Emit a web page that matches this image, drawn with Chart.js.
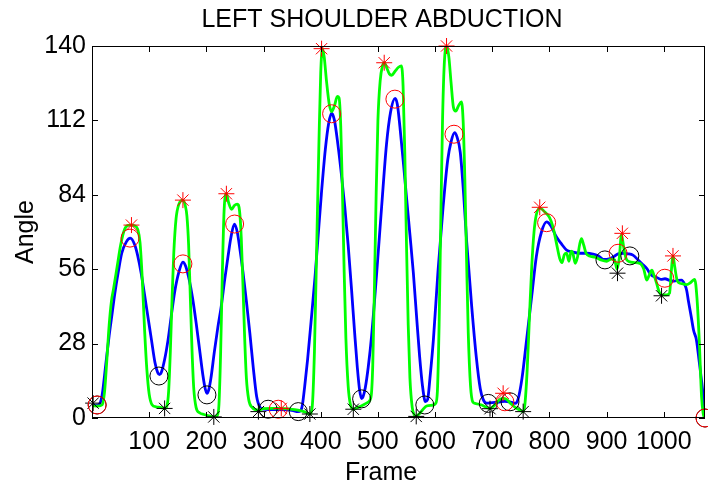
<!DOCTYPE html>
<html><head><meta charset="utf-8">
<script src="https://cdn.jsdelivr.net/npm/chart.js@4"></script>
<style>html,body{margin:0;padding:0;background:#fff}#wrap{width:708px;height:487px}</style>
</head><body><div id="wrap"><canvas id="c" width="708" height="487"></canvas></div>
<script>
const titleText = "LEFT SHOULDER ABDUCTION";
const xLabel = "Frame";
const yLabel = "Angle";
const xTicks = [100, 200, 300, 400, 500, 600, 700, 800, 900, 1000];
const yTicks = [0, 28, 56, 84, 112, 140];

// smoothed (blue) curve
const smoothFrames = [0,5,9,14,18,24,30,35,40,46,52,60,67,75,80,86,95,104,110,115,118,121,127,133,139,145,152,159,164,170,176,182,188,194,198,201,204,208,214,220,226,232,238,243,249,254,259,264,270,276,282,288,294,300,310,325,340,352,360,365,368,372,377,383,390,396,401,408,414,419,424,430,436,442,448,454,459,464,468,471.5,474,478,483,489,498,506.5,515,522,530,534,538.5,545,550,556,562,568,573,578,583,587,591,597,605,614,622,628,634,638,644,650,655,664,672,679,684,690,700,712,722,732,740,745,752,760,769,777,786,795,802,812,821,830,840,853,865,876,886,894,900,911,920,929,937,946,955,962,970,978,987,995,1002,1010,1018,1025,1031,1036,1040,1043,1048,1052,1057,1062,1066,1069,1072];
const smoothAngles = [5.5,4.8,4.8,5.5,9,20,31,39,47,55,62,66.3,67.7,65,61,54.5,42,29.4,21,17,16.3,17,22,29.4,39,48,55,58.7,57,52,45,36,26,16,11,9.3,10.5,15,25,34,42,52,61,68,73,70,63,55,44,32,19,8,4,3.3,3.2,3.2,3.1,2.8,2.4,2.8,5,12,22,36,53,70,84,101,111,114.7,112,103,92,79.5,65,48,33,19,10.5,7.3,8,11.5,19,31,55,79.5,103,115,120.3,118,109.6,95,83,69,54.5,37,23,12,6.2,7,15,29.4,55,79.5,97,104,107.4,106,100,84,67,42,23,11,7,5.6,5.8,6,6.3,6,5.5,7,15,29.4,46,60.7,70,73.8,72.5,68.2,65.5,63.2,62.5,62,62,61.7,61,59.7,59.7,60.5,61.8,62,61.8,61.3,59.5,58,56.3,53.8,53,52.2,52.4,51.8,51.5,51.8,51.9,50.5,48,44,38,33,29.4,21,14,8,0];

// raw (green) curve
const rawFrames = [0,10,18,22,26,30,34,38,44,50,57,63,69,75,80,84,88,92,96,100,105,112,120,127,131,134,137,140,143,147,152,159,163,166,169,172,175,178,182,188,196,205,213,219,222,225,228,231,235,239,244,249,254,258,261,264,267,270,274,280,291,300,315,331,345,360,372,381,385,389,393,397,400,403,406,410,415,419,424,429,432,435,438,441,444,448,452,457,465,475,483,488,491,494,497,500,504,508,511,516,520,524,530,536,541,544,547,550,553,556,560,564,567,572,578,585,595,601,604,607,610,613,616,620,624,628,632,636,641,646,649,652,655,658,662,666,670,680,690,696,705,712,719,725,732,740,748,754,757,761,765,769,773,777,783,792,800,806,812,818,822,826,830,834,838,841,845,849,853,856,860,864,870,880,890,900,908,914,918,922,926,930,934,939,948,958,965,970,975,979,983,987,991,996,1005,1010,1013,1016,1019,1023,1026,1033,1040,1047,1054,1058,1062,1066,1069,1071];
const rawAngles = [4.6,4.5,5,10,22,35,44,49,57,65,71,72.5,72.6,72.3,71,66,52,33,18,9,5,4.2,4,3.6,4.5,10,25,45,62,75,80.5,82,80,76,65,45,25,11,4,2,1.3,0.8,0.4,1,5,25,55,78,84.4,81,78.5,80,80.5,78,68,50,30,15,7,4,3,3.5,3.6,3.6,3.4,3,2.3,1.5,4,25,65,105,130,139,136,127,118,115.3,117.5,121,120.5,110,85,55,30,12,5,3.3,4,5,6,8,20,50,85,112,127,132.5,133.7,131.5,129.5,129,130.5,132,132.5,125,100,65,35,15,4,1,0.6,1.5,3,4.5,4.8,5.5,10,35,75,112,133,140,136,126,117,115.5,117.5,119,112,90,60,32,12,6,5.5,5,4,3.5,5,6.8,7.4,7,5.5,4,3,2.4,5,18,38,57,70,76.5,79,77.5,75.5,72,66,60,58.5,61.5,62,59,62.8,62,58.2,60.5,65.5,67.5,65,62,61,60.5,59.5,59,59.8,59.5,56,60,69,64,60,58.9,58.5,58.2,56,51.9,54,55.6,53.5,51,48,46.3,46.3,47,55,61,57,52,50.9,50.5,50.2,51,52.2,45,29,8,1.5,0];

// markers
const rawPeakFrames = [69,159,235,331,401.5,511,620,719,783,927.5,1016];
const rawPeakAngles = [72.6,82,84.4,3.6,139,133.7,140,9.3,79.3,69.5,61];
const smoothPeakFrames = [9,66.5,159,249.4,325.7,419,529.7,633,722,795,920,1001.7,1072];
const smoothPeakAngles = [4.9,67.7,58,73,3.3,114.5,120,106.8,6.1,73.5,62,52.6,0];
const rawValleyFrames = [2,127,213,291,381,457,567,696,754,919,996];
const rawValleyAngles = [5.6,3.6,0.4,2.4,1.5,3.3,0.6,3.5,2.4,54.5,46];
const smoothValleyFrames = [9,117,201,308,360.7,471.5,582,693,731,897,940.6,1072];
const smoothValleyAngles = [4.9,15.8,8.7,3.3,2.4,7.2,4.9,5.5,6.1,59.5,61,0];

const pts = (xs, ys) => xs.map((x, i) => ({x: x, y: ys[i]}));
const FONT = '"Liberation Sans", Arial, Helvetica, sans-serif';

function markerSet(xs, ys, style, color, r) {
  return {
    type: 'line', data: pts(xs, ys), showLine: false, clip: false,
    pointStyle: style, pointRadius: r, pointHoverRadius: r,
    pointBorderColor: color, pointBackgroundColor: 'rgba(0,0,0,0)',
    pointBorderWidth: 1, borderColor: color, backgroundColor: 'rgba(0,0,0,0)'
  };
}

const framePlugin = {
  id: 'framePlugin',
  afterDatasetsDraw(chart) {
    const {ctx, chartArea: a, scales: {x, y}} = chart;
    ctx.save();
    ctx.strokeStyle = '#000';
    ctx.lineWidth = 1;
    ctx.strokeRect(a.left + 0.5, a.top + 0.5, a.right - a.left - 1, a.bottom - a.top - 1);
    const tl = 6;
    ctx.beginPath();
    xTicks.forEach(v => {
      const px = Math.round(x.getPixelForValue(v)) + 0.5;
      ctx.moveTo(px, a.bottom); ctx.lineTo(px, a.bottom - tl);
      ctx.moveTo(px, a.top); ctx.lineTo(px, a.top + tl);
    });
    yTicks.forEach(v => {
      const py = Math.round(y.getPixelForValue(v)) + 0.5;
      ctx.moveTo(a.left, py); ctx.lineTo(a.left + tl, py);
      ctx.moveTo(a.right, py); ctx.lineTo(a.right - tl, py);
    });
    ctx.stroke();
    ctx.restore();
  },
  afterDraw(chart) {
    const {ctx} = chart;
    ctx.save();
    ctx.fillStyle = '#000';
    ctx.font = '25px ' + FONT;
    ctx.textAlign = 'center';
    ctx.textBaseline = 'alphabetic';
    ctx.fillText(titleText, 382, 27);
    ctx.fillText(xLabel, 381, 480);
    ctx.translate(33, 232);
    ctx.rotate(-Math.PI / 2);
    ctx.fillText(yLabel, 0, 0);
    ctx.restore();
  }
};

new Chart(document.getElementById('c'), {
  type: 'line',
  data: {
    datasets: [
      markerSet(rawPeakFrames, rawPeakAngles, 'star', '#ff0000', 8),
      markerSet(smoothPeakFrames, smoothPeakAngles, 'circle', '#ff0000', 9),
      markerSet(rawValleyFrames, rawValleyAngles, 'star', '#000000', 8),
      markerSet(smoothValleyFrames, smoothValleyAngles, 'circle', '#000000', 9),
      { data: pts(rawFrames, rawAngles), borderColor: '#00ff00', borderWidth: 2.8,
        pointRadius: 0, cubicInterpolationMode: 'monotone', fill: false },
      { data: pts(smoothFrames, smoothAngles), borderColor: '#0000ff', borderWidth: 2.8,
        pointRadius: 0, cubicInterpolationMode: 'monotone', fill: false }
    ]
  },
  options: {
    responsive: false, animation: false, devicePixelRatio: 1,
    layout: { autoPadding: false, padding: { top: 46, right: 3, left: 0, bottom: 0 } },
    plugins: { legend: { display: false }, tooltip: { enabled: false }, title: { display: false } },
    scales: {
      x: {
        type: 'linear', min: 0, max: 1072,
        afterBuildTicks: s => { s.ticks = xTicks.map(v => ({value: v})); },
        afterFit: s => { s.height = 69; s.paddingLeft = 0; s.paddingRight = 0; },
        grid: { display: false, drawTicks: false }, border: { display: false },
        ticks: { color: '#000', font: { family: FONT, size: 25 }, padding: 9, maxRotation: 0, autoSkip: false,
                 callback: v => String(v) }
      },
      y: {
        type: 'linear', min: 0, max: 140,
        afterBuildTicks: s => { s.ticks = yTicks.map(v => ({value: v})); },
        afterFit: s => { s.width = 92; s.paddingTop = 0; s.paddingBottom = 0; },
        grid: { display: false, drawTicks: false }, border: { display: false },
        ticks: { color: '#000', font: { family: FONT, size: 25 }, padding: 6, autoSkip: false,
                 callback: v => String(v) }
      }
    }
  },
  plugins: [framePlugin]
});
</script>
</body></html>
